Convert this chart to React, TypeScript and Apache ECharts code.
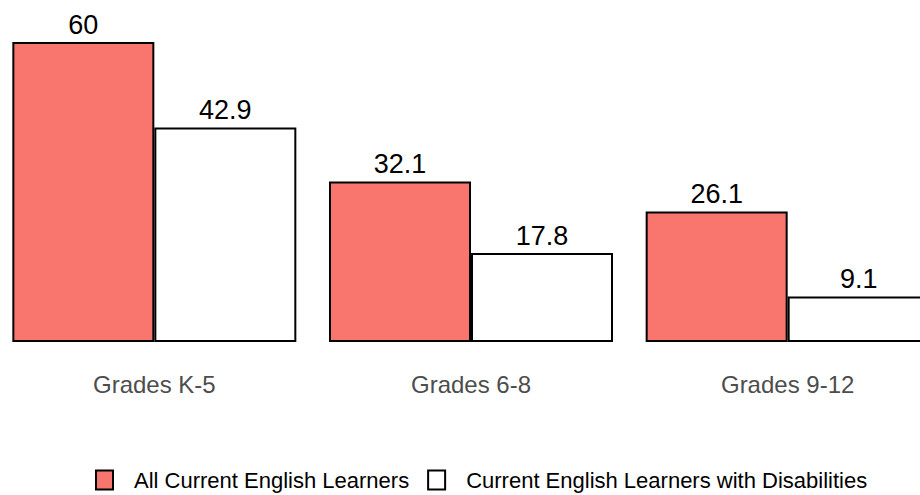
import React, { useEffect, useRef } from "react";
import * as echarts from "echarts";

const categories = ["Grades K-5", "Grades 6-8", "Grades 9-12"];
const seriesNames = ["All Current English Learners", "Current English Learners with Disabilities"];
const allLearners = [60, 32.1, 26.1];
const withDisabilities = [42.9, 17.8, 9.1];

const FONT = "'Liberation Sans', Arial, sans-serif";

export default function App() {
  const ref = useRef<HTMLDivElement>(null);
  useEffect(() => {
    if (!ref.current) return;
    const chart = echarts.init(ref.current, undefined, { renderer: "svg" });
    const label = {
      show: true,
      position: "top" as const,
      distance: 4,
      color: "#000",
      fontSize: 27,
      fontFamily: FONT,
    };
    chart.setOption({
      animation: false,
      backgroundColor: "#fff",
      grid: { left: 1, width: 950, top: 12, bottom: 153, containLabel: false },
      legend: {
        left: 100,
        top: 469,
        padding: 0,
        itemWidth: 17,
        itemHeight: 19,
        itemGap: 18,
        icon: "rect",
        textStyle: { fontSize: 22, fontFamily: FONT, color: "#000", padding: [0, 0, 0, 16] },
        data: seriesNames,
      },
      xAxis: {
        type: "category",
        data: categories,
        axisLine: { show: false },
        axisTick: { show: false },
        axisLabel: { fontSize: 24, fontFamily: FONT, color: "#4D4D4D", margin: 30 },
      },
      yAxis: {
        type: "value",
        min: 0,
        max: 66,
        show: false,
        splitLine: { show: false },
      },
      series: [
        {
          name: seriesNames[0],
          type: "bar",
          data: allLearners,
          barWidth: 142,
          barGap: "0%",
          itemStyle: { color: "#F8766D", borderColor: "#000", borderWidth: 2 },
          label,
        },
        {
          name: seriesNames[1],
          type: "bar",
          data: withDisabilities,
          barWidth: 142,
          barGap: "0%",
          itemStyle: { color: "#FFFFFF", borderColor: "#000", borderWidth: 2 },
          label,
        },
      ],
    });
    return () => chart.dispose();
  }, []);
  return (
    <div style={{ position: "fixed", left: 0, top: 0, width: 920, height: 495, overflow: "hidden", background: "#fff" }}>
      <div ref={ref} style={{ position: "absolute", left: -5, top: 0, width: 972, height: 495 }} />
    </div>
  );
}
